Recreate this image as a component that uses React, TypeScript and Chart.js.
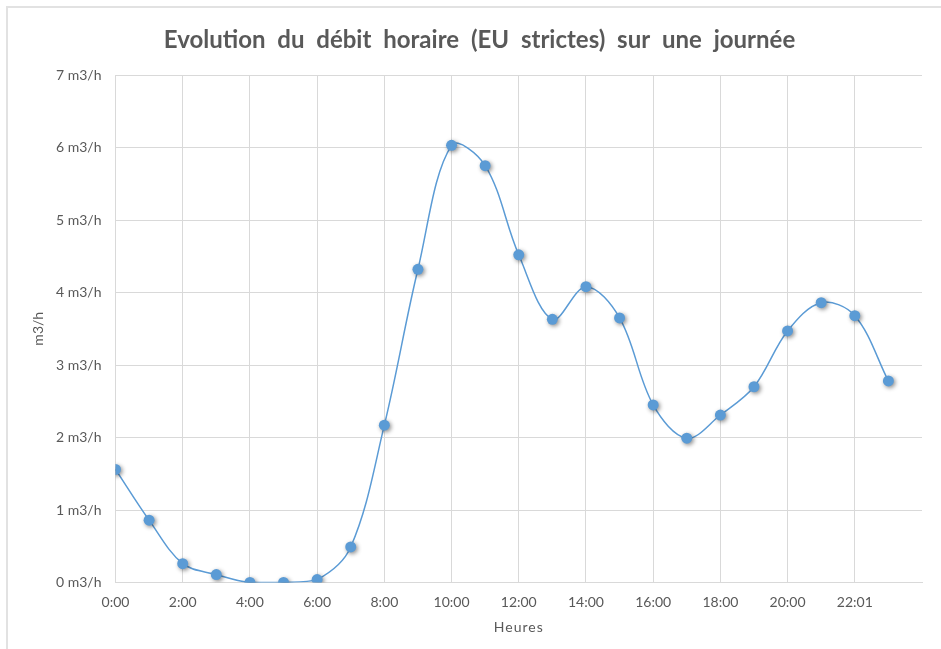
import React, { useEffect, useRef } from 'react';
import { Chart, registerables } from 'chart.js';

Chart.register(...registerables);

const chartTitle = 'Evolution du débit horaire (EU strictes) sur une journée';
const xAxisTitle = 'Heures';
const yAxisTitle = 'm3/h';

const hours = [0, 1, 2, 3, 4, 5, 6, 7, 8, 9, 10, 11, 12, 13, 14, 15, 16, 17, 18, 19, 20, 21, 22, 23];
const flowValues = [
  1.56, 0.86, 0.26, 0.11, 0.0, 0.0, 0.04, 0.49, 2.17, 4.32, 6.03, 5.75,
  4.52, 3.63, 4.08, 3.65, 2.45, 1.99, 2.31, 2.7, 3.47, 3.86, 3.68, 2.78,
];
const xTickLabels = ['0:00', '2:00', '4:00', '6:00', '8:00', '10:00', '12:00', '14:00', '16:00', '18:00', '20:00', '22:01'];
const yTickUnit = 'm3/h';

const BLUE = '#5B9BD5';
const GRID = '#d9d9d9';
const TEXT = '#595959';
const FONT = 'Lato';

const markerShadow = {
  id: 'markerShadow',
  beforeDatasetDraw(chart: any, args: any) {
    if (chart.data.datasets[args.index].label === 'markers') {
      const ctx = chart.ctx;
      ctx.save();
      ctx.shadowColor = 'rgba(0,0,0,0.45)';
      ctx.shadowBlur = 4;
      ctx.shadowOffsetX = 1.5;
      ctx.shadowOffsetY = 1.5;
    }
  },
  afterDatasetDraw(chart: any, args: any) {
    if (chart.data.datasets[args.index].label === 'markers') {
      chart.ctx.restore();
    }
  },
};

// Excel-like text spacing: wider word gaps in the title, slight letter spacing on the x title
const textSpacing = {
  id: 'textSpacing',
  beforeDraw(chart: any) {
    const ctx = chart.ctx;
    const tb = chart.titleBlock;
    if (tb && !tb.__patched) {
      const orig = tb.draw.bind(tb);
      tb.draw = (...a: any[]) => {
        ctx.save();
        ctx.translate(18.5, 0);
        try { (ctx as any).wordSpacing = '6px'; } catch (e) {}
        orig(...a);
        ctx.restore();
      };
      tb.__patched = true;
    }
    const xs = chart.scales.x;
    if (xs && !xs.__patched) {
      const origT = xs.drawTitle.bind(xs);
      xs.drawTitle = (...a: any[]) => {
        ctx.save();
        try { (ctx as any).letterSpacing = '1px'; } catch (e) {}
        origT(...a);
        ctx.restore();
      };
      xs.__patched = true;
    }
  },
};

export default function App() {
  const canvasRef = useRef<HTMLCanvasElement | null>(null);

  useEffect(() => {
    if (!canvasRef.current) return;
    const points = hours.map((h, i) => ({ x: h, y: flowValues[i] }));
    const chart = new Chart(canvasRef.current, {
      type: 'line',
      data: {
        datasets: [
          {
            label: 'markers',
            data: points,
            showLine: false,
            pointRadius: 5.5,
            pointBackgroundColor: BLUE,
            pointBorderColor: BLUE,
            pointBorderWidth: 0,
            order: 0,
          },
          {
            label: 'line',
            data: points,
            borderColor: BLUE,
            borderWidth: 1.5,
            pointRadius: 0,
            tension: 0.35,
            fill: false,
            order: 1,
          },
        ],
      },
      options: {
        animation: false,
        responsive: false,
        events: [],
        layout: { padding: { left: 0, right: 19, top: 0, bottom: 0 } },
        plugins: {
          legend: { display: false },
          tooltip: { enabled: false },
          title: {
            display: true,
            text: chartTitle,
            color: TEXT,
            font: { family: FONT, size: 24, weight: 'bold' },
            padding: { top: 26, bottom: 20.2 },
          },
        },
        scales: {
          x: {
            type: 'linear',
            min: 0,
            max: 24,
            afterFit: (s: any) => {
              s.height = 66.5;
            },
            ticks: {
              stepSize: 2,
              padding: 12,
              color: TEXT,
              font: { family: FONT, size: 14 },
              maxRotation: 0,
              autoSkip: false,
              callback: (v: any) => {
                const idx = Math.round(Number(v) / 2);
                return xTickLabels[idx] ?? '';
              },
            },
            grid: {
              drawTicks: false,
              color: (c: any) => (c.tick && c.tick.value === 24 ? 'rgba(0,0,0,0)' : GRID),
              lineWidth: 1,
            },
            border: { color: GRID, width: 1 },
            title: {
              display: true,
              text: xAxisTitle,
              color: TEXT,
              font: { family: FONT, size: 14 },
              padding: { top: 0, bottom: 13 },
            },
          },
          y: {
            min: 0,
            max: 7,
            afterFit: (s: any) => {
              s.width = 115.5;
            },
            ticks: {
              stepSize: 1,
              padding: 14,
              color: TEXT,
              font: { family: FONT, size: 14 },
              callback: (v: any) => `${v} ${yTickUnit}`,
            },
            grid: { drawTicks: false, color: GRID, lineWidth: 1 },
            border: { color: GRID, width: 1 },
            title: {
              display: true,
              text: yAxisTitle,
              color: TEXT,
              font: { family: FONT, size: 14 },
              padding: { top: 30, bottom: 0 },
            },
          },
        },
      },
      plugins: [markerShadow, textSpacing],
    } as any);
    return () => chart.destroy();
  }, []);

  return (
    <div style={{ position: 'fixed', left: 0, top: 0, width: 941, height: 649, overflow: 'hidden', background: '#fff' }}>
      <div
        style={{
          position: 'absolute',
          left: 6,
          top: 6,
          width: 1000,
          height: 1000,
          border: '2px solid #e2e2e2',
          boxSizing: 'border-box',
        }}
      />
      <canvas
        ref={canvasRef}
        width={941}
        height={649}
        style={{ position: 'absolute', left: 0, top: 0, width: 941, height: 649, display: 'block' }}
      />
    </div>
  );
}
